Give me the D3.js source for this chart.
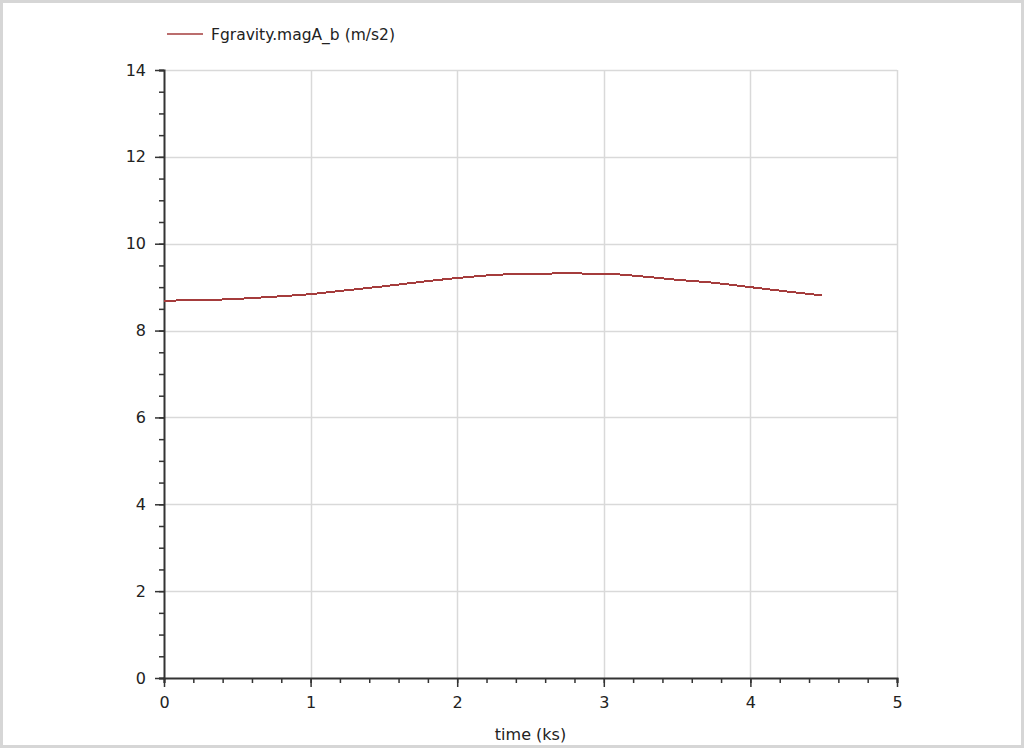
<!DOCTYPE html>
<html>
<head>
<meta charset="utf-8">
<script src="https://cdn.jsdelivr.net/npm/d3@7"></script>
<style>
  body { margin: 0; background: #fff; }
  text { font-family: "DejaVu Sans", sans-serif; fill: #222; }
</style>
</head>
<body>
<div class="chart"></div>
<script>
const width = 1024,
    height = 748;
const margin = {top: 70, right: 127, bottom: 70, left: 164};

// time (ks) and Fgravity.magA_b (m/s2)
const times = [0, 0.25, 0.5, 0.75, 1.0, 1.25, 1.5, 1.75, 2.0, 2.25, 2.5, 2.75, 3.0, 3.25, 3.5, 3.75, 4.0, 4.25, 4.49];
const magA = [8.69, 8.70, 8.73, 8.78, 8.84, 8.93, 9.02, 9.12, 9.21, 9.28, 9.31, 9.315, 9.31, 9.25, 9.17, 9.10, 9.00, 8.90, 8.81];
const xTicks = [0, 1, 2, 3, 4, 5];
const yTicks = [0, 2, 4, 6, 8, 10, 12, 14];
const seriesName = "Fgravity.magA_b (m/s2)";
const xTitle = "time (ks)";

const svg = d3.select(".chart").append("svg")
    .attr("width", width)
    .attr("height", height);

// outer frame
svg.append("rect")
    .attr("x", 1.5).attr("y", 1.5)
    .attr("width", width - 3).attr("height", height - 3)
    .attr("fill", "none")
    .attr("stroke", "#d6d6d6")
    .attr("stroke-width", 3);

const x = d3.scaleLinear().domain([0, 5]).range([margin.left, width - margin.right]);
const y = d3.scaleLinear().domain([0, 14]).range([height - margin.bottom, margin.top]);

// grid
svg.append("g").selectAll("line").data(xTicks.slice(1)).enter().append("line")
    .attr("x1", d => Math.round(x(d)) + .5).attr("x2", d => Math.round(x(d)) + .5)
    .attr("y1", y(14)).attr("y2", y(0))
    .attr("stroke", "#d9d9d9").attr("stroke-width", 1.5);
svg.append("g").selectAll("line").data(yTicks.slice(1)).enter().append("line")
    .attr("x1", x(0)).attr("x2", x(5))
    .attr("y1", d => Math.round(y(d)) + .5).attr("y2", d => Math.round(y(d)) + .5)
    .attr("stroke", "#d9d9d9").attr("stroke-width", 1.5);

// axes
const xAxis = svg.append("g")
    .attr("transform", `translate(0,${y(0)})`)
    .call(d3.axisBottom(x).tickValues(d3.range(0, 5.01, 0.2)).tickSize(5).tickFormat(""));
xAxis.append("g")
    .call(d3.axisBottom(x).tickValues(xTicks).tickSize(9).tickPadding(10).tickFormat(d3.format("d")));
const yAxis = svg.append("g")
    .attr("transform", `translate(${x(0)},0)`)
    .call(d3.axisLeft(y).tickValues(d3.range(0, 14.01, 0.5)).tickSize(5).tickFormat(""));
yAxis.append("g")
    .call(d3.axisLeft(y).tickValues(yTicks).tickSize(9).tickPadding(9).tickFormat(d3.format("d")));

svg.selectAll(".domain").attr("stroke", "#333").attr("stroke-width", 2);
svg.selectAll(".tick line").attr("stroke", "#333").attr("stroke-width", 1.5);
svg.selectAll(".tick text").style("font-size", "16px").attr("fill", "#222")
    .style("font-family", "'DejaVu Sans', sans-serif");
yAxis.selectAll(".domain").filter((d, i, n) => n[i].parentNode !== yAxis.node()).remove();
xAxis.selectAll(".domain").filter((d, i, n) => n[i].parentNode !== xAxis.node()).remove();

// series
const line = d3.line()
    .x((d, i) => x(times[i]))
    .y(d => y(d))
    .curve(d3.curveMonotoneX);
svg.append("path")
    .datum(magA)
    .attr("d", line)
    .attr("fill", "none")
    .attr("stroke", "#a53c3c")
    .attr("stroke-width", 2)
    .attr("shape-rendering", "crispEdges");

// legend
svg.append("line")
    .attr("x1", 167).attr("x2", 203).attr("y1", 34).attr("y2", 34)
    .attr("stroke", "#a53c3c").attr("stroke-width", 1.5);
svg.append("text")
    .attr("x", 211).attr("y", 40)
    .style("font-size", "15.5px")
    .text(seriesName);

// x axis title
svg.append("text")
    .attr("x", (x(0) + x(5)) / 2).attr("y", 740)
    .attr("text-anchor", "middle")
    .style("font-size", "16px")
    .text(xTitle);
</script>
</body>
</html>
